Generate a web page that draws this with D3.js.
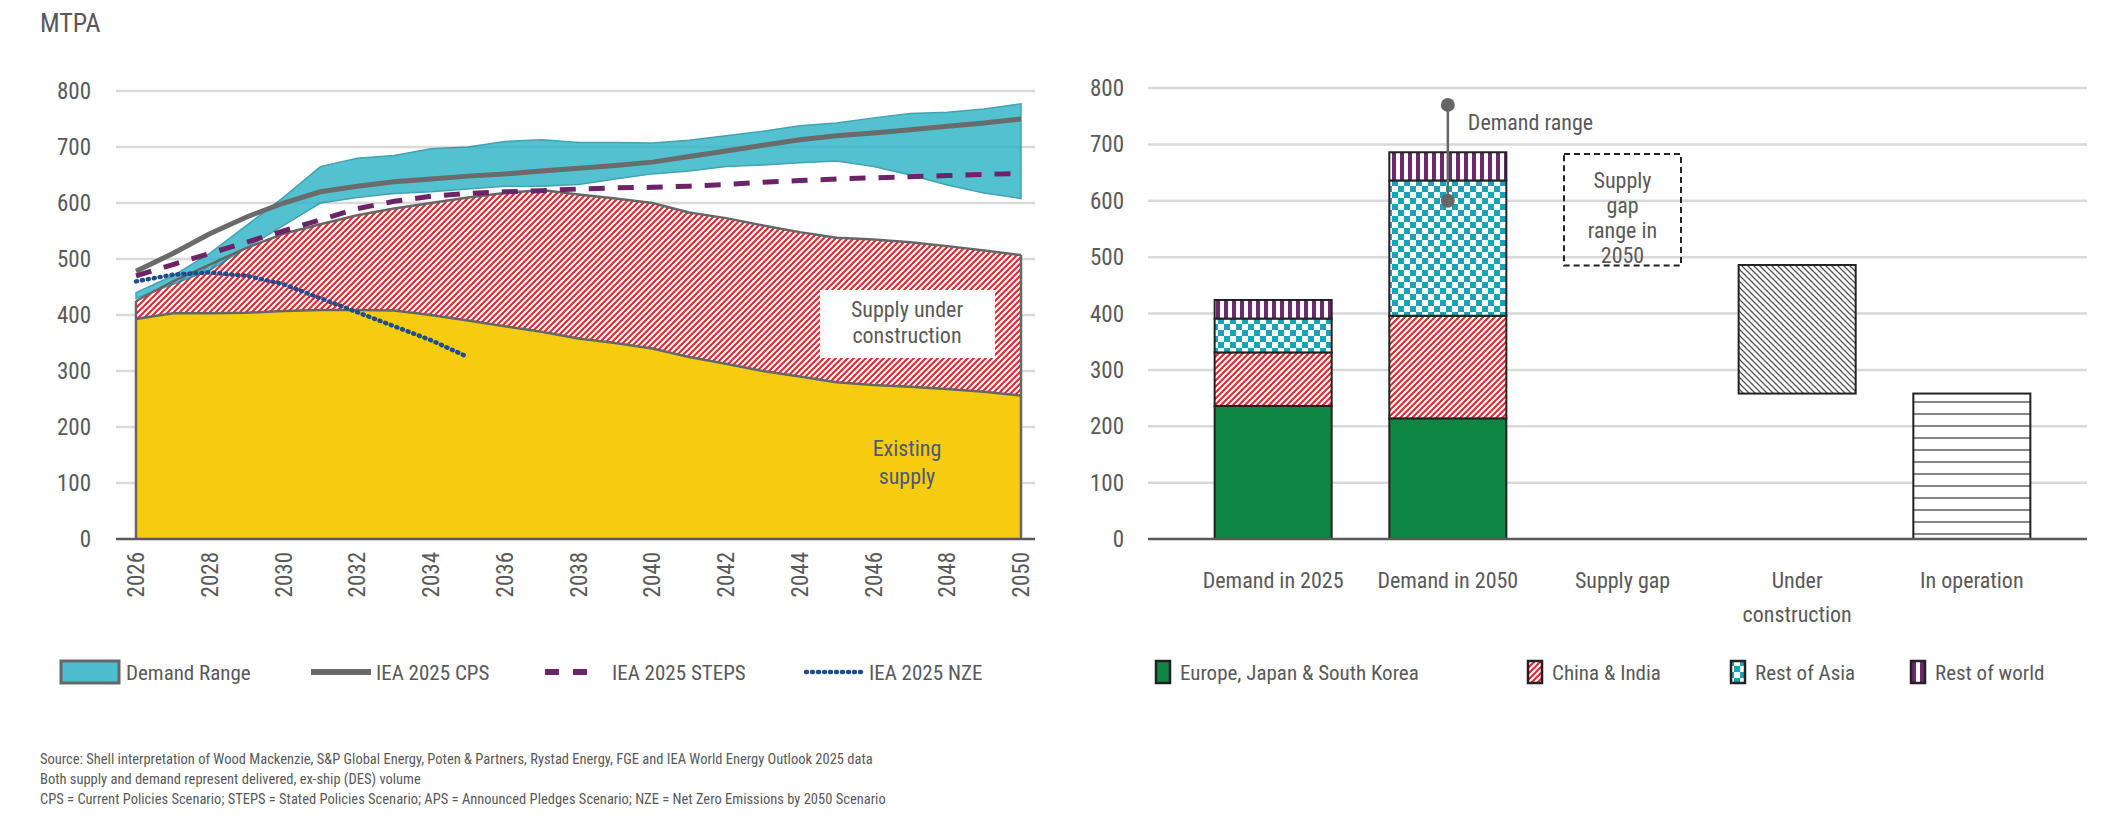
<!DOCTYPE html>
<html><head><meta charset="utf-8">
<script src="https://cdn.jsdelivr.net/npm/d3@7"></script>
<style>body{margin:0;background:#fff}text{font-family:"Liberation Sans Narrow","Roboto Condensed","Open Sans",sans-serif;fill:#595959}</style>
</head><body><div id="wrapper"></div>
<script>
const years = d3.range(2026, 2051)
const existing = [393,403,403,404,407,409,409,408,400,390,380,370,358,350,340,325,313,300,290,280,275,272,268,263,256]
const totalSupply = [425,460,490,520,545,562,578,590,600,610,618,623,615,608,600,583,573,560,548,538,535,530,523,515,507]
const demandHigh = [440,470,510,560,610,665,680,685,697,700,710,713,708,708,707,712,720,728,738,743,752,760,762,768,777]
const demandLow = [430,455,480,520,560,600,610,617,620,625,630,630,633,643,652,657,665,668,672,675,665,650,632,618,608]
const cps = [478,510,545,575,600,620,630,638,643,648,652,657,662,667,673,683,693,703,713,720,725,731,737,743,750]
const steps = [470,490,510,530,550,570,590,603,612,617,620,622,625,627,628,630,633,637,640,643,645,647,649,651,653]
const nzeYears = d3.range(2026, 2036)
const nze = [460,472,476,470,455,430,405,380,355,325]
const yTicks = [0,100,200,300,400,500,600,700,800]

const barCats = ["Demand in 2025","Demand in 2050","Supply gap","Under construction","In operation"]
const regions = ["Europe, Japan & South Korea","China & India","Rest of Asia","Rest of world"]
const demand2025 = [236,95,60,33]
const demand2050 = [214,182,240,50]
const demandRange2050 = [600,770]
const supplyGap = [485,683]
const underConstruction = [258,486]
const inOperation = [0,258]

const svg = d3.select("#wrapper").append("svg").attr("width",2126).attr("height",817)
const defs = svg.append("defs")
function pattern(id, size, bg, draw){
  const p = defs.append("pattern").attr("id",id).attr("patternUnits","userSpaceOnUse").attr("width",size).attr("height",size)
  p.append("rect").attr("width",size).attr("height",size).attr("fill",bg)
  draw(p)
}
pattern("redHatch",6,"#fff",p=>p.append("path").attr("d","M-1,7 L7,-1 M-1,1 L1,-1 M5,7 L7,5").attr("stroke","#e0262b").attr("stroke-width",2))
pattern("checker",12,"#fff",p=>{p.append("rect").attr("width",6).attr("height",6).attr("fill","#1aa3b8");p.append("rect").attr("x",6).attr("y",6).attr("width",6).attr("height",6).attr("fill","#1aa3b8")})
pattern("purpleStripe",8,"#fff",p=>p.append("rect").attr("width",4).attr("height",8).attr("fill","#6b2a6b"))
pattern("greyHatch",6,"#fff",p=>p.append("path").attr("d","M-1,-1 L7,7 M5,-1 L7,1 M-1,5 L1,7").attr("stroke","#555").attr("stroke-width",1.3))
pattern("hLines",12,"#fff",p=>p.append("line").attr("x1",0).attr("x2",12).attr("y1",6).attr("y2",6).attr("stroke","#444").attr("stroke-width",1.3))
const regionFill = ["#0e8542","url(#redHatch)","url(#checker)","url(#purpleStripe)"]

// ---- left chart
const y = d3.scaleLinear().domain([0,800]).range([539,91])
const x = d3.scaleLinear().domain([2026,2050]).range([136,1021])
const left = svg.append("g")
left.selectAll(".grid").data(yTicks.slice(1)).join("line")
  .attr("x1",116).attr("x2",1035).attr("y1",d=>y(d)).attr("y2",d=>y(d)).attr("stroke","#d9d9d9").attr("stroke-width",2.5)
left.selectAll(".yt").data(yTicks).join("text")
  .attr("x",91).attr("y",d=>y(d)+8).attr("text-anchor","end").attr("font-size",23).text(d=>d)
svg.append("text").attr("x",40).attr("y",32).attr("font-size",26).text("MTPA")

const idx = d3.range(years.length)
const area = (lo,hi) => d3.area().x(i=>x(years[i])).y0(i=>y(lo(i))).y1(i=>y(hi(i)))
left.append("path").attr("d",area(()=>0,i=>existing[i])(idx)).attr("fill","#f7cb10")
left.append("path").attr("d",area(i=>existing[i],i=>totalSupply[i])(idx)).attr("fill","url(#redHatch)")
left.append("path").attr("d",area(i=>demandLow[i],i=>demandHigh[i])(idx)).attr("fill","#2fb4c8").attr("opacity",0.82)
  .attr("stroke","#1a8f9f").attr("stroke-width",1.5)
const line = d3.line().x(i=>x(years[i]))
left.append("path").attr("d",line.y(i=>y(existing[i]))(idx)).attr("fill","none").attr("stroke","#666").attr("stroke-width",2.5)
left.append("path").attr("d",line.y(i=>y(totalSupply[i]))(idx)).attr("fill","none").attr("stroke","#666").attr("stroke-width",2.5)
left.append("path").attr("d",`M${x(2026)},${y(0)}V${y(totalSupply[0])}M${x(2050)},${y(0)}V${y(totalSupply[24])}`).attr("stroke","#666").attr("stroke-width",2.5)
left.append("path").attr("d",line.y(i=>y(cps[i]))(idx)).attr("fill","none").attr("stroke","#6b6b6b").attr("stroke-width",5)
left.append("path").attr("d",line.y(i=>y(steps[i]))(idx)).attr("fill","none").attr("stroke","#6b2466").attr("stroke-width",5).attr("stroke-dasharray","16,13")
left.append("path").attr("d",d3.line().x((d,i)=>x(nzeYears[i])).y(d=>y(d))(nze)).attr("fill","none")
  .attr("stroke","#1f4e8c").attr("stroke-width",4.5).attr("stroke-dasharray","1,5").attr("stroke-linecap","round")
left.append("line").attr("x1",116).attr("x2",1035).attr("y1",y(0)).attr("y2",y(0)).attr("stroke","#595959").attr("stroke-width",2.5)
left.selectAll(".xt").data(years.filter(d=>d%2==0)).join("text")
  .attr("transform",d=>`translate(${x(d)+8},${552}) rotate(-90)`).attr("text-anchor","end").attr("font-size",23).text(d=>d)
left.append("rect").attr("x",820).attr("y",290).attr("width",175).attr("height",68).attr("fill","#fff")
left.append("text").attr("x",907).attr("y",317).attr("text-anchor","middle").attr("font-size",22).text("Supply under")
left.append("text").attr("x",907).attr("y",343).attr("text-anchor","middle").attr("font-size",22).text("construction")
left.append("text").attr("x",907).attr("y",456).attr("text-anchor","middle").attr("font-size",22).attr("style","fill:#4a5a7a").text("Existing")
left.append("text").attr("x",907).attr("y",484).attr("text-anchor","middle").attr("font-size",22).attr("style","fill:#4a5a7a").text("supply")

// left legend
const lg = svg.append("g").attr("font-size",21)
lg.append("rect").attr("x",61).attr("y",661).attr("width",58).attr("height",22).attr("fill","#4bbfd0").attr("stroke","#666").attr("stroke-width",3)
lg.append("text").attr("x",126).attr("y",680).text("Demand Range")
lg.append("line").attr("x1",311).attr("x2",371).attr("y1",672).attr("y2",672).attr("stroke","#6b6b6b").attr("stroke-width",6)
lg.append("text").attr("x",376).attr("y",680).text("IEA 2025 CPS")
lg.append("line").attr("x1",545).attr("x2",600).attr("y1",672).attr("y2",672).attr("stroke","#6b2466").attr("stroke-width",6).attr("stroke-dasharray","14,14")
lg.append("text").attr("x",612).attr("y",680).text("IEA 2025 STEPS")
lg.append("line").attr("x1",806).attr("x2",862).attr("y1",672).attr("y2",672).attr("stroke","#1f4e8c").attr("stroke-width",4.5).attr("stroke-dasharray","1,5").attr("stroke-linecap","round")
lg.append("text").attr("x",869).attr("y",680).text("IEA 2025 NZE")

// ---- right chart
const yr = d3.scaleLinear().domain([0,800]).range([539,88])
const xb = d3.scaleBand().domain(barCats).range([1157,2088]).padding(0.33)
const right = svg.append("g")
right.selectAll(".grid").data(yTicks.slice(1)).join("line")
  .attr("x1",1148).attr("x2",2087).attr("y1",d=>yr(d)).attr("y2",d=>yr(d)).attr("stroke","#d9d9d9").attr("stroke-width",2.5)
right.selectAll(".yt").data(yTicks).join("text")
  .attr("x",1124).attr("y",d=>yr(d)+8).attr("text-anchor","end").attr("font-size",23).text(d=>d)
function stack(cat, vals){
  let acc = 0
  vals.forEach((v,i)=>{
    right.append("rect").attr("x",xb(cat)).attr("width",xb.bandwidth()).attr("y",yr(acc+v)).attr("height",yr(acc)-yr(acc+v))
      .attr("fill",regionFill[i]).attr("stroke","#222").attr("stroke-width",2)
    acc += v
  })
}
stack(barCats[0], demand2025)
stack(barCats[1], demand2050)
function floatBar(cat, r, fill, dash){
  right.append("rect").attr("x",xb(cat)).attr("width",xb.bandwidth()).attr("y",yr(r[1])).attr("height",yr(r[0])-yr(r[1]))
    .attr("fill",fill).attr("stroke","#222").attr("stroke-width",2).attr("stroke-dasharray",dash||null)
}
floatBar(barCats[2], supplyGap, "none", "6,4")
floatBar(barCats[3], underConstruction, "url(#greyHatch)")
floatBar(barCats[4], inOperation, "url(#hLines)")
const gx = xb(barCats[2]) + xb.bandwidth()/2
;["Supply","gap","range in","2050"].forEach((t,i)=>right.append("text").attr("x",gx).attr("y",yr(683)+34+i*25).attr("text-anchor","middle").attr("font-size",22).text(t))
const wx = xb(barCats[1]) + xb.bandwidth()/2
right.append("line").attr("x1",wx).attr("x2",wx).attr("y1",yr(demandRange2050[0])).attr("y2",yr(demandRange2050[1])).attr("stroke","#666").attr("stroke-width",2.5)
right.selectAll(".dot").data(demandRange2050).join("circle").attr("cx",wx).attr("cy",d=>yr(d)).attr("r",7).attr("fill","#666")
right.append("text").attr("x",wx+20).attr("y",yr(770)+25).attr("font-size",22).text("Demand range")
right.append("line").attr("x1",1148).attr("x2",2087).attr("y1",yr(0)).attr("y2",yr(0)).attr("stroke","#595959").attr("stroke-width",2.5)
right.selectAll(".xl").data(barCats).join("text").attr("x",d=>xb(d)+xb.bandwidth()/2).attr("y",588).attr("text-anchor","middle").attr("font-size",22)
  .each(function(d){
    const w = d=="Under construction" ? ["Under","construction"] : [d]
    w.forEach((t,i)=>d3.select(this).append("tspan").attr("x",xb(d)+xb.bandwidth()/2).attr("dy",i?34:0).text(t))
  })
const rlx = [1156,1528,1731,1911]
regions.forEach((r,i)=>{
  svg.append("rect").attr("x",rlx[i]).attr("y",661).attr("width",14).attr("height",22).attr("fill",regionFill[i]).attr("stroke","#222").attr("stroke-width",2.5)
  svg.append("text").attr("x",rlx[i]+24).attr("y",680).attr("font-size",21).text(r)
})

// notes
const notes = ["Source: Shell interpretation of Wood Mackenzie, S&P Global Energy, Poten & Partners, Rystad Energy, FGE and IEA World Energy Outlook 2025 data",
  "Both supply and demand represent delivered, ex-ship (DES) volume",
  "CPS = Current Policies Scenario; STEPS = Stated Policies Scenario; APS = Announced Pledges Scenario; NZE = Net Zero Emissions by 2050 Scenario"]
notes.forEach((t,i)=>svg.append("text").attr("x",40).attr("y",764+i*20).attr("font-size",14.5).text(t))
</script></body></html>
